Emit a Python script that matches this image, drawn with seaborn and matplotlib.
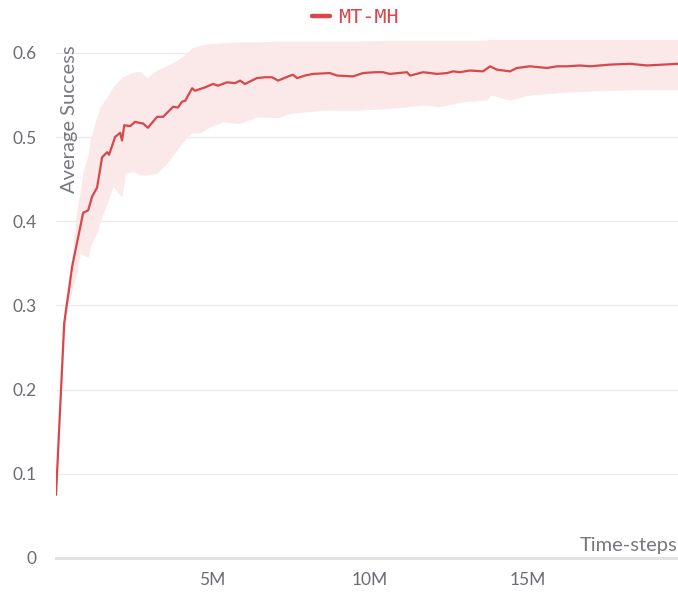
import seaborn as sns
import matplotlib
matplotlib.use("Agg")
import matplotlib.pyplot as plt
from matplotlib.ticker import FuncFormatter
import pandas as pd

# mean curve, x in millions of time-steps
steps = [0.06, 0.32, 0.41, 0.44, 0.57, 0.92, 1.08, 1.20, 1.36, 1.52, 1.68, 1.74,
         1.93, 2.09, 2.15, 2.22, 2.41, 2.56, 2.82, 2.97, 3.26, 3.45, 3.77, 3.92,
         4.05, 4.15, 4.37, 4.46, 4.78, 5.03, 5.19, 5.47, 5.73, 5.89, 6.04, 6.42,
         6.68, 6.90, 7.09, 7.41, 7.56, 7.69, 7.94, 8.20, 8.73, 8.96, 9.46, 9.78,
         10.16, 10.41, 10.63, 11.17, 11.27, 11.68, 12.12, 12.44, 12.63, 12.85,
         13.16, 13.58, 13.80, 14.02, 14.43, 14.65, 15.06, 15.60, 15.92, 16.23,
         16.65, 16.96, 17.59, 18.23, 18.77, 19.27, 19.75]
mean = [0.075, 0.279, 0.303, 0.310, 0.346, 0.410, 0.413, 0.429, 0.440, 0.476, 0.482, 0.479,
        0.500, 0.505, 0.496, 0.514, 0.513, 0.518, 0.516, 0.511, 0.524, 0.524, 0.536, 0.535,
        0.542, 0.543, 0.558, 0.555, 0.559, 0.563, 0.561, 0.565, 0.564, 0.567, 0.563, 0.570,
        0.571, 0.571, 0.567, 0.572, 0.574, 0.570, 0.573, 0.575, 0.576, 0.573, 0.572, 0.576,
        0.577, 0.577, 0.575, 0.577, 0.573, 0.577, 0.575, 0.576, 0.578, 0.577,
        0.579, 0.578, 0.584, 0.580, 0.578, 0.582, 0.584, 0.582, 0.584, 0.584,
        0.585, 0.584, 0.586, 0.587, 0.585, 0.586, 0.587]

# shaded band
band_steps = [0.06, 0.32, 0.44, 0.57, 0.73, 0.82, 0.92, 1.08, 1.14, 1.36, 1.46, 1.68,
              1.87, 2.15, 2.25, 2.50, 2.72, 2.94, 3.26, 3.58, 3.89, 4.21, 4.37, 4.62,
              4.94, 5.35, 5.89, 6.42, 7.09, 7.47, 8.51, 9.59, 10.63, 11.68, 12.22,
              12.94, 13.70, 13.80, 14.43, 15.06, 16.11, 17.18, 18.23, 19.75]
lower = [0.075, 0.26, 0.30, 0.318, 0.34, 0.362, 0.36, 0.357, 0.37, 0.386, 0.40, 0.421,
         0.441, 0.429, 0.457, 0.459, 0.455, 0.455, 0.457, 0.469, 0.485, 0.500, 0.505, 0.505,
         0.512, 0.518, 0.516, 0.524, 0.523, 0.528, 0.532, 0.532, 0.534, 0.538, 0.536,
         0.542, 0.544, 0.550, 0.544, 0.550, 0.553, 0.555, 0.556, 0.556]
upper = [0.075, 0.30, 0.33, 0.36, 0.417, 0.433, 0.46, 0.48, 0.496, 0.525, 0.536, 0.548,
         0.560, 0.571, 0.573, 0.577, 0.578, 0.570, 0.580, 0.585, 0.591, 0.600, 0.606, 0.609,
         0.611, 0.612, 0.613, 0.613, 0.614, 0.614, 0.614, 0.614, 0.615, 0.615, 0.615,
         0.615, 0.615, 0.616, 0.616, 0.616, 0.616, 0.616, 0.616, 0.616]

y_ticks = [0, 0.1, 0.2, 0.3, 0.4, 0.5, 0.6]
x_ticks = [5, 10, 15]

red = "#d9474b"
grey = "#6b6b76"

sns.set_theme(style="white")
plt.rcParams["font.family"] = ["Lato", "DejaVu Sans"]

fig = plt.figure(figsize=(6.78, 5.92), dpi=100)
ax = fig.add_axes([56 / 678, 34 / 592, 622 / 678, 522 / 592])

ax.fill_between(band_steps, lower, upper, color="#fbe8e9", linewidth=0, zorder=1)
df = pd.DataFrame({"steps": steps, "mean": mean})
sns.lineplot(data=df, x="steps", y="mean", ax=ax, color=red, linewidth=1.6,
             label="MT-MH", zorder=3)

ax.set_xlim(0.06, 19.75)
ax.set_ylim(0, 0.62)
ax.set_yticks(y_ticks)
ax.set_xticks(x_ticks)
ax.yaxis.set_major_formatter(FuncFormatter(lambda v, p: "0" if v == 0 else f"{v:.1f}"))
ax.xaxis.set_major_formatter(FuncFormatter(lambda v, p: f"{int(v)}M"))

for y in y_ticks[1:]:
    ax.axhline(y, color="#ebebeb", linewidth=1, zorder=0)

for s in ["top", "right", "left"]:
    ax.spines[s].set_visible(False)
ax.spines["bottom"].set_color("#e2e2e2")
ax.spines["bottom"].set_linewidth(2.2)

ax.tick_params(axis="y", length=0, pad=14, labelsize=12.5, labelcolor=grey)
ax.tick_params(axis="x", direction="inout", length=12, width=1, color="#e2e2e2",
               pad=4, labelsize=12.5, labelcolor=grey)

# axis titles sit inside the plot area
ax.set_ylabel("")
ax.set_xlabel("")
ax.text(0.021, 0.982, "Average Success", transform=ax.transAxes, rotation=90,
        ha="center", va="top", fontsize=14.5, color="#77777f")
ax.text(1.0, 0.008, "Time-steps", transform=ax.transAxes,
        ha="right", va="bottom", fontsize=14.5, color="#77777f")

leg = ax.legend(loc="center", bbox_to_anchor=(0.481, 1.035), frameon=False,
                handlelength=0.9, handletextpad=0.4, labelcolor=red,
                prop={"family": "DejaVu Sans Mono", "size": 14.5})
for h in leg.get_lines():
    h.set_linewidth(3.2)

fig.savefig("out.png", dpi=100)
